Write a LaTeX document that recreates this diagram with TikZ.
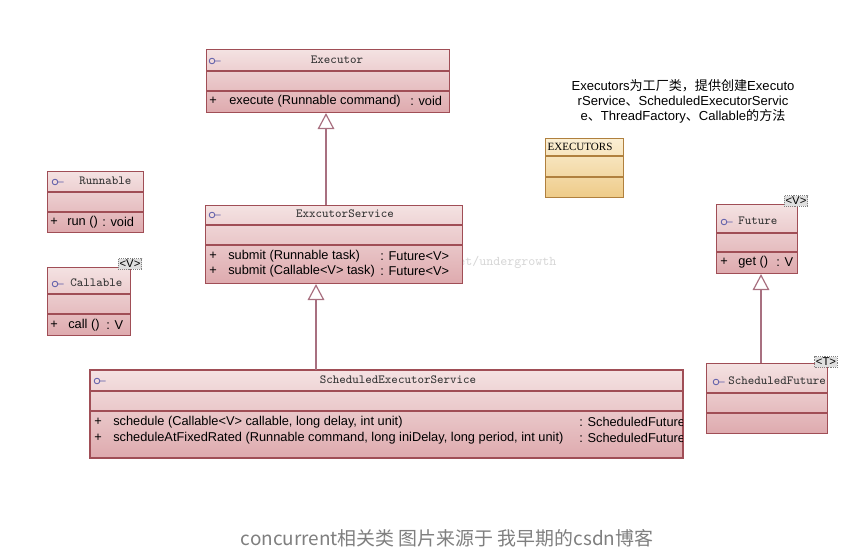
\documentclass[tikz,border=0pt]{standalone}
\usepackage{fontspec}
\setmainfont{Liberation Sans}
\newfontfamily\cjk{Noto Sans CJK SC}
\newfontfamily\timesf{Liberation Serif}
\usetikzlibrary{arrows.meta}
\definecolor{boxline}{HTML}{A04E56}
\definecolor{boxtop}{HTML}{F4E2E2}
\definecolor{boxbot}{HTML}{DEAAAE}
\definecolor{ybox}{HTML}{B0803E}
\definecolor{ytop}{HTML}{FBEFD4}
\definecolor{ybot}{HTML}{EECB88}
\definecolor{conn}{HTML}{A87080}
\definecolor{iconc}{HTML}{5A5AA8}
\definecolor{capgray}{HTML}{7F7F7F}
\definecolor{wm}{HTML}{D6D6D6}
\tikzset{
  umlbox/.style={draw=boxline, line width=0.8pt, top color=boxtop, bottom color=boxbot, anchor=north west, inner sep=0pt},
  ybox/.style={draw=ybox, line width=0.8pt, top color=ytop, bottom color=ybot, anchor=north west, inner sep=0pt},
  sep/.style={draw=boxline, line width=0.8pt},
  ysep/.style={draw=ybox, line width=0.8pt},
  hdr/.style={font=\ttfamily\fontsize{9.3}{10}\selectfont, text=black!80, inner sep=0pt},
  mth/.style={font=\fontsize{9.6}{11}\selectfont, anchor=west, inner sep=0pt},
  tagbox/.style={draw=gray, densely dotted, fill=gray!25, font=\fontsize{8.5}{9}\selectfont, inner sep=1pt},
  gen/.style={draw=conn, line width=0.9pt, -{Triangle[open, length=12pt, width=12.5pt]}},
  umlic/.pic={\draw[iconc, line width=0.6pt] (0,0) circle[radius=2.1pt] (2.1pt,0) -- (6.5pt,0);}
}
\begin{document}
\begin{tikzpicture}[x=0.75pt, y=-0.75pt]
\fill[white] (0,0) rectangle (854,559);
\useasboundingbox (0,0) rectangle (854,559);

% watermark
\node[font=\ttfamily\fontsize{10}{12}\selectfont, text=wm, anchor=west, inner sep=0pt] (wmark) at (458,262) {et/undergrowth};

% Executor
\node[umlbox, minimum width={243*0.75pt}, minimum height={63*0.75pt}] (exec) at (206,49) {};
\draw[sep] (exec.west |- 0,71) -- (exec.east |- 0,71);
\draw[sep] (exec.west |- 0,91) -- (exec.east |- 0,91);
\pic at (212,61) {umlic};
\node[hdr] (execn) at (337,60) {Executor};
\node[mth] (execp) at (209,101) {+};
\node[mth] (execm) at (229,101) {execute (Runnable command)};
\node[mth] (execr) at (410,101) {: void};

% Runnable
\node[umlbox, minimum width={96*0.75pt}, minimum height={61*0.75pt}] (run) at (47,171) {};
\draw[sep] (run.west |- 0,192) -- (run.east |- 0,192);
\draw[sep] (run.west |- 0,212) -- (run.east |- 0,212);
\pic at (55,182) {umlic};
\node[hdr, anchor=west] (runn) at (79,181) {Runnable};
\node[mth] (runp) at (50,222) {+};
\node[mth] (runm) at (67,222) {run ()};
\node[mth] (runr) at (102,222) {: void};

% Callable
\node[umlbox, minimum width={83*0.75pt}, minimum height={68*0.75pt}] (call) at (47,267) {};
\draw[sep] (call.west |- 0,294) -- (call.east |- 0,294);
\draw[sep] (call.west |- 0,314) -- (call.east |- 0,314);
\pic at (55,284) {umlic};
\node[hdr, anchor=west] (calln) at (70,283) {Callable};
\node[mth] (callp) at (50,325) {+};
\node[mth] (callm) at (68,325) {call ()};
\node[mth] (callr) at (106,325) {: V};
\node[tagbox] (callt) at (130,264) {<V>};

% ExxcutorService
\node[umlbox, minimum width={257*0.75pt}, minimum height={78*0.75pt}] (esvc) at (205,205) {};
\draw[sep] (esvc.west |- 0,225) -- (esvc.east |- 0,225);
\draw[sep] (esvc.west |- 0,245) -- (esvc.east |- 0,245);
\pic at (212,215) {umlic};
\node[hdr] (esvcn) at (345,214) {ExxcutorService};
\node[mth] (esvcp1) at (209,256) {+};
\node[mth] (esvcm1) at (228,256) {submit (Runnable task)};
\node[mth] (esvcr1) at (380,256) {: Future<V>};
\node[mth] (esvcp2) at (209,271) {+};
\node[mth] (esvcm2) at (228,271) {submit (Callable<V> task)};
\node[mth] (esvcr2) at (380,271) {: Future<V>};

% ScheduledExecutorService
\node[umlbox, minimum width={592*0.75pt}, minimum height={87*0.75pt}] (ssvc) at (90,370) {};
\draw[sep] (ssvc.west |- 0,391) -- (ssvc.east |- 0,391);
\draw[sep] (ssvc.west |- 0,411) -- (ssvc.east |- 0,411);
\pic at (97,381) {umlic};
\node[hdr] (ssvcn) at (398,380) {ScheduledExecutorService};
\begin{scope}
\clip (ssvc.south west) rectangle (ssvc.north east);
\node[mth] (ssvcp1) at (94,422) {+};
\node[mth] (ssvcm1) at (113,422) {schedule (Callable<V> callable, long delay, int unit)};
\node[mth] (ssvcr1) at (579,422) {: ScheduledFuture<V>};
\node[mth] (ssvcp2) at (94,438) {+};
\node[mth] (ssvcm2) at (113,438) {scheduleAtFixedRated (Runnable command, long iniDelay, long period, int unit)};
\node[mth] (ssvcr2) at (579,438) {: ScheduledFuture<V>};
\end{scope}
\draw[draw=boxline, line width=0.8pt] (ssvc.north west) rectangle (ssvc.south east);

% EXECUTORS
\node[ybox, minimum width={78*0.75pt}, minimum height={59*0.75pt}] (exs) at (545,138) {};
\draw[ysep] (exs.west |- 0,156) -- (exs.east |- 0,156);
\draw[ysep] (exs.west |- 0,177) -- (exs.east |- 0,177);
\node[font=\timesf\fontsize{8.3}{9}\selectfont, inner sep=0pt] (exsn) at (580,147) {EXECUTORS};

% Future
\node[umlbox, minimum width={81*0.75pt}, minimum height={69*0.75pt}] (fut) at (716,204) {};
\draw[sep] (fut.west |- 0,233) -- (fut.east |- 0,233);
\draw[sep] (fut.west |- 0,252) -- (fut.east |- 0,252);
\pic at (724,222) {umlic};
\node[hdr, anchor=west] (futn) at (738,221) {Future};
\node[mth] (futp) at (720,262) {+};
\node[mth] (futm) at (738,262) {get ()};
\node[mth] (futr) at (776,262) {: V};
\node[tagbox] (futt) at (796,201) {<V>};

% ScheduledFuture
\node[umlbox, minimum width={121*0.75pt}, minimum height={70*0.75pt}] (sfut) at (706,363) {};
\draw[sep] (sfut.west |- 0,393) -- (sfut.east |- 0,393);
\draw[sep] (sfut.west |- 0,413) -- (sfut.east |- 0,413);
\pic at (716,382) {umlic};
\node[hdr, anchor=west] (sfutn) at (728,381) {ScheduledFuture};
\node[tagbox] (sfutt) at (826,362) {<T>};

% generalizations
\draw[gen] (esvc.north -| 326,0) -- (exec.south -| 326,0);
\draw[gen] (ssvc.north -| 316,0) -- (esvc.south -| 316,0);
\draw[gen] (sfut.north -| 761,0) -- (fut.south -| 761,0);

% note
\node[align=center, font=\fontsize{9.8}{11.25}\selectfont, inner sep=0pt] (note) at (683,101)
 {Executors{\cjk 为工厂类，提供创建}Executo\\rService{\cjk 、}ScheduledExecutorServic\\e{\cjk 、}ThreadFactory{\cjk 、}Callable{\cjk 的方法}};

% caption
\node[font=\cjk\fontsize{14.2}{16}\selectfont, text=capgray, inner sep=0pt] (cap) at (447,538) {concurrent相关类 图片来源于 我早期的csdn博客};
\end{tikzpicture}
\end{document}
